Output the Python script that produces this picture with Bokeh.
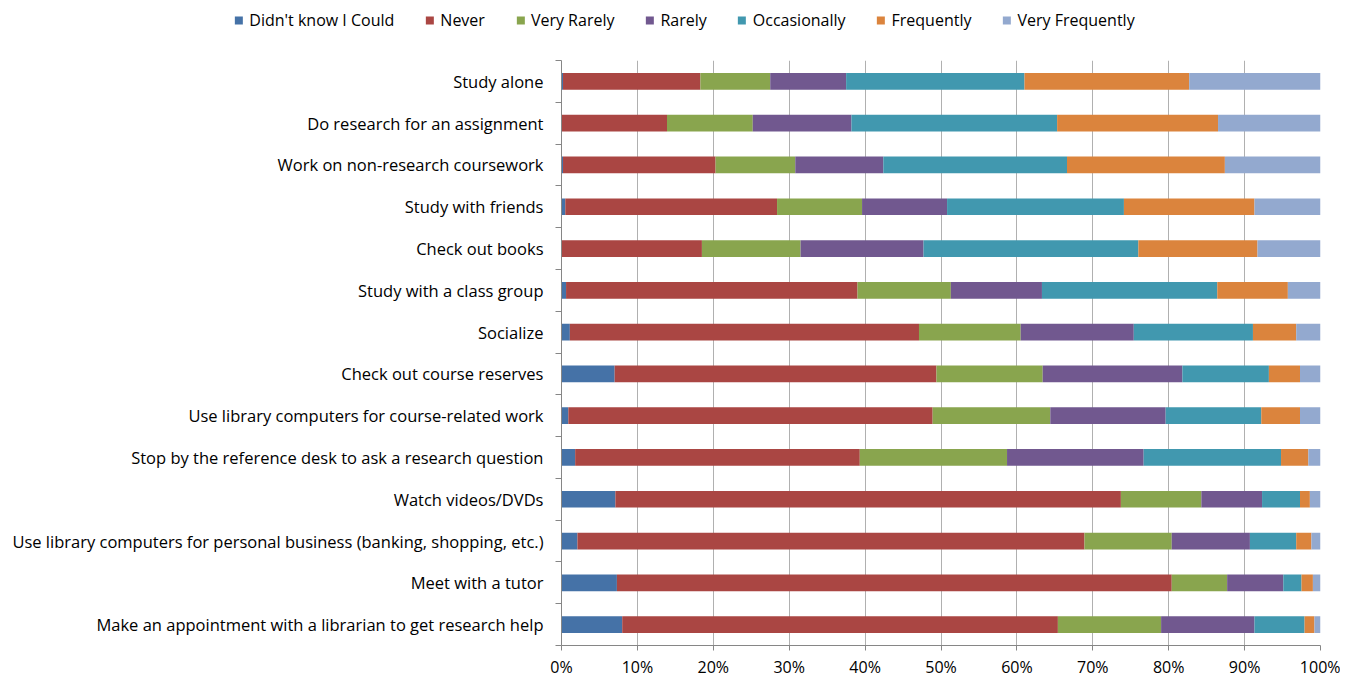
from bokeh.plotting import figure
from bokeh.layouts import column
from bokeh.models import (FactorRange, Range1d, LinearAxis, FixedTicker,
                          Legend, LegendItem, ColumnDataSource, PrintfTickFormatter)
from bokeh.embed import file_html
from bokeh.resources import INLINE

categories = [
    "Study alone",
    "Do research for an assignment",
    "Work on non-research coursework",
    "Study with friends",
    "Check out books",
    "Study with a class group",
    "Socialize",
    "Check out course reserves",
    "Use library computers for course-related work",
    "Stop by the reference desk to ask a research question",
    "Watch videos/DVDs",
    "Use library computers for personal business (banking, shopping, etc.)",
    "Meet with a tutor",
    "Make an appointment with a librarian to get research help",
]

series_names = ["Didn't know I Could", "Never", "Very Rarely", "Rarely",
                "Occasionally", "Frequently", "Very Frequently"]

didnt_know      = [0.2, 0.0, 0.2, 0.5, 0.0, 0.6, 1.1, 7.0, 0.9, 1.8, 7.1, 2.1, 7.3, 8.0]
never           = [18.1, 13.9, 20.1, 27.9, 18.5, 38.4, 46.0, 42.4, 48.0, 37.5, 66.6, 66.8, 73.1, 57.4]
very_rarely     = [9.2, 11.3, 10.5, 11.2, 13.0, 12.3, 13.4, 14.0, 15.5, 19.4, 10.6, 11.5, 7.3, 13.6]
rarely          = [10.0, 13.0, 11.6, 11.2, 16.2, 12.0, 14.9, 18.4, 15.2, 18.0, 8.0, 10.3, 7.4, 12.3]
occasionally    = [23.5, 27.1, 24.2, 23.3, 28.3, 23.1, 15.7, 11.4, 12.6, 18.1, 5.0, 6.1, 2.4, 6.6]
frequently      = [21.7, 21.2, 20.8, 17.2, 15.7, 9.3, 5.7, 4.1, 5.1, 3.6, 1.3, 2.0, 1.5, 1.3]
very_frequently = [17.3, 13.5, 12.6, 8.7, 8.3, 4.3, 3.2, 2.7, 2.7, 1.6, 1.4, 1.2, 1.0, 0.8]

x_ticks = [0, 10, 20, 30, 40, 50, 60, 70, 80, 90, 100]

colors = ["#4572A7", "#AA4643", "#89A54E", "#71588F", "#4198AF", "#DB843D", "#93A9CF"]
keys = ["dk", "never", "vrare", "rare", "occ", "freq", "vfreq"]

source = ColumnDataSource(dict(
    cat=categories, dk=didnt_know, never=never, vrare=very_rarely, rare=rarely,
    occ=occasionally, freq=frequently, vfreq=very_frequently))

FONT = "Open Sans"
n = len(categories)

# ---------------- main chart ----------------
p = figure(
    y_range=FactorRange(factors=list(reversed(categories))),
    x_range=Range1d(0, 100),
    width=1340, height=620,
    output_backend="svg", toolbar_location=None,
    min_border_left=561, min_border_right=20, min_border_top=0, min_border_bottom=29,
    y_axis_location=None,
)
p.frame_align = False
p.outline_line_color = None
p.background_fill_color = "white"

renderers = p.hbar_stack(keys, y="cat", height=0.4, color=colors, source=source, line_width=0)

xa = p.xaxis[0]
xa.ticker = FixedTicker(ticks=x_ticks)
xa.formatter = PrintfTickFormatter(format="%d%%")
xa.axis_line_color = "#868686"
xa.major_tick_line_color = "#868686"
xa.major_tick_out = 5
xa.major_tick_in = 0
xa.minor_tick_line_color = None
xa.major_label_text_font = FONT
xa.major_label_text_font_size = "16px"
xa.major_label_text_color = "#000000"
xa.major_label_standoff = 5

p.xgrid.ticker = FixedTicker(ticks=x_ticks)
p.xgrid.grid_line_color = "#B0B0B0"
p.ygrid.visible = False

# y axis: labels at category centres, small ticks on the boundaries between categories
centres = [n - 0.5 - i for i in range(n)]
bounds = list(range(n + 1))
ya = LinearAxis(ticker=FixedTicker(ticks=centres, minor_ticks=bounds))
ya.major_label_overrides = {c: cat for c, cat in zip(centres, categories)}
ya.axis_line_color = "#868686"
ya.major_tick_line_color = None
ya.major_tick_out = 0
ya.major_tick_in = 0
ya.minor_tick_line_color = "#868686"
ya.minor_tick_out = 6
ya.minor_tick_in = 0
ya.major_label_standoff = 12
ya.major_label_text_font = FONT
ya.major_label_text_font_size = "16.5px"
ya.major_label_text_color = "#000000"
p.add_layout(ya, "left")

# ---------------- legend strip ----------------
lf = figure(width=1340, height=60, output_backend="svg", toolbar_location=None,
            x_range=Range1d(10, 11), y_range=Range1d(10, 11),
            min_border_left=28, min_border_right=0, min_border_top=0, min_border_bottom=20,
            x_axis_location=None, y_axis_location=None)
lf.frame_align = False
lf.outline_line_color = None
lf.xgrid.visible = False
lf.ygrid.visible = False
# invisible proxy glyphs, only used to draw the legend swatches
swatches = [lf.rect(x=[0], y=[0], width=1, height=1, color=c, line_width=0, visible=False)
            for c in colors]

legend = Legend(
    items=[LegendItem(label=s, renderers=[r]) for s, r in zip(series_names, swatches)],
    orientation="horizontal",
    location="center",
    glyph_width=10, glyph_height=10, label_standoff=6, spacing=30,
    padding=0, margin=0,
    border_line_color=None, background_fill_alpha=0,
    inactive_fill_alpha=0,
    label_text_font=FONT, label_text_font_size="16px", label_text_color="#000000",
    label_height=20,
)
lf.add_layout(legend, "center")

layout = column(lf, p, spacing=0)
open("out.html", "w").write(file_html(layout, INLINE))
